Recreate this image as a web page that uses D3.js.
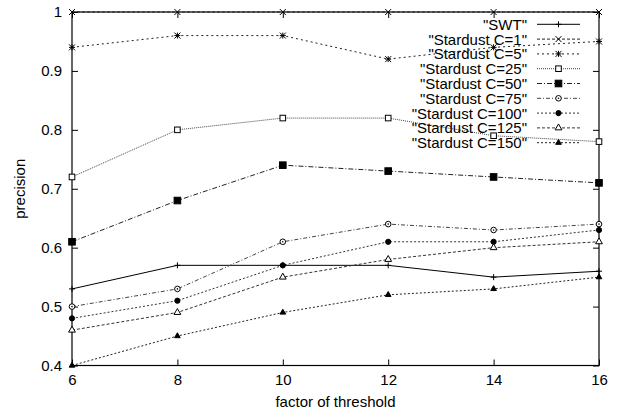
<!DOCTYPE html>
<html>
<head>
<meta charset="utf-8">
<script src="https://cdn.jsdelivr.net/npm/d3@7"></script>
<style>
  body { margin: 0; background: #fff; }
  svg text { font-family: "Liberation Sans", Arial, Helvetica, sans-serif; fill: #000; }
</style>
</head>
<body>
<svg id="chart"></svg>
<script>
// x values (factor of threshold)
var factors = [6, 8, 10, 12, 14, 16];

var seriesNames = ['"SWT"', '"Stardust C=1"', '"Stardust C=5"', '"Stardust C=25"', '"Stardust C=50"',
  '"Stardust C=75"', '"Stardust C=100"', '"Stardust C=125"', '"Stardust C=150"'];

var swt    = [0.53, 0.57, 0.57, 0.57, 0.55, 0.56];
var c1     = [1.00, 1.00, 1.00, 1.00, 1.00, 1.00];
var c5     = [0.94, 0.96, 0.96, 0.92, 0.94, 0.95];
var c25    = [0.72, 0.80, 0.82, 0.82, 0.79, 0.78];
var c50    = [0.61, 0.68, 0.74, 0.73, 0.72, 0.71];
var c75    = [0.50, 0.53, 0.61, 0.64, 0.63, 0.64];
var c100   = [0.48, 0.51, 0.57, 0.61, 0.61, 0.63];
var c125   = [0.46, 0.49, 0.55, 0.58, 0.60, 0.61];
var c150   = [0.40, 0.45, 0.49, 0.52, 0.53, 0.55];

var xTicks = [6, 8, 10, 12, 14, 16];
var yTicks = [0.4, 0.5, 0.6, 0.7, 0.8, 0.9, 1];

var allValues = [swt, c1, c5, c25, c50, c75, c100, c125, c150];

// line dash + marker per series
var styles = [
  { dash: null,        color: "#000", marker: "plus" },
  { dash: "3,2",       color: "#222", marker: "x" },
  { dash: "2,3",       color: "#222", marker: "star" },
  { dash: "1,1",       color: "#444", marker: "square" },
  { dash: "5,2,1,2",   color: "#222", marker: "squareFill" },
  { dash: "4,2,1,2",   color: "#444", marker: "circle" },
  { dash: "2,2",       color: "#333", marker: "circleFill" },
  { dash: "3,2",       color: "#333", marker: "triangle" },
  { dash: "2,2",       color: "#222", marker: "triangleFill" }
];

var fontSize = 15;
var svgWidth = 620, svgHeight = 416;
var margin = { top: 12, right: 21, bottom: 50.5, left: 72 };
var width = svgWidth - margin.left - margin.right;
var height = svgHeight - margin.top - margin.bottom;

var svg = d3.select("#chart")
    .attr("width", svgWidth)
    .attr("height", svgHeight);

var g = svg.append("g")
    .attr("transform", "translate(" + margin.left + "," + margin.top + ")");

var x = d3.scaleLinear().domain([6, 16]).range([0, width]);
var y = d3.scaleLinear().domain([0.4, 1]).range([height, 0]);

// axes with inward ticks on all four sides
var fmtY = function(d) { return d === 1 ? "1" : d3.format(".1f")(d); };

g.append("g")
    .attr("class", "axis")
    .attr("transform", "translate(0," + height + ")")
    .call(d3.axisBottom(x).tickValues(xTicks).tickSize(-6).tickPadding(8.5).tickFormat(d3.format("d")));

g.append("g")
    .attr("class", "axis")
    .call(d3.axisLeft(y).tickValues(yTicks).tickSize(-6).tickPadding(10).tickFormat(fmtY));

g.append("g")
    .attr("class", "axis")
    .call(d3.axisTop(x).tickValues(xTicks).tickSize(-6).tickFormat(""));

g.append("g")
    .attr("class", "axis")
    .attr("transform", "translate(" + width + ",0)")
    .call(d3.axisRight(y).tickValues(yTicks).tickSize(-6).tickFormat(""));

g.selectAll(".axis .domain").remove();
g.selectAll(".axis line").attr("stroke", "#000");
g.selectAll(".axis text").attr("font-size", fontSize).attr("fill", "#000")
    .style("font-family", '"Liberation Sans", Arial, sans-serif');

g.append("rect")
    .attr("width", width)
    .attr("height", height)
    .attr("fill", "none")
    .attr("stroke", "#000")
    .attr("stroke-width", 1.2);

// axis titles
svg.append("text")
    .attr("x", margin.left + width / 2)
    .attr("y", 406.5)
    .attr("text-anchor", "middle")
    .attr("font-size", fontSize)
    .text("factor of threshold");

svg.append("text")
    .attr("transform", "translate(24.5," + (margin.top + height / 2) + ") rotate(-90)")
    .attr("text-anchor", "middle")
    .attr("font-size", fontSize)
    .text("precision");

function drawMarker(sel, type, cx, cy) {
  var s = 3;
  var m = sel.append("g").attr("transform", "translate(" + cx + "," + cy + ")");
  if (type === "plus") {
    m.append("path").attr("d", "M" + (-s) + ",0H" + s + "M0," + (-s) + "V" + s)
        .attr("stroke", "#000").attr("stroke-width", 1).attr("fill", "none");
  } else if (type === "x") {
    m.append("path").attr("d", "M" + (-s) + "," + (-s) + "L" + s + "," + s + "M" + (-s) + "," + s + "L" + s + "," + (-s))
        .attr("stroke", "#000").attr("stroke-width", 1).attr("fill", "none");
  } else if (type === "star") {
    m.append("path").attr("d", "M" + (-s) + ",0H" + s + "M0," + (-s) + "V" + s +
        "M" + (-s) + "," + (-s) + "L" + s + "," + s + "M" + (-s) + "," + s + "L" + s + "," + (-s))
        .attr("stroke", "#000").attr("stroke-width", 1).attr("fill", "none");
  } else if (type === "square" || type === "squareFill") {
    var h = type === "square" ? 2.8 : 3.3;
    m.append("rect").attr("x", -h).attr("y", -h).attr("width", 2 * h).attr("height", 2 * h)
        .attr("fill", type === "square" ? "#fff" : "#000").attr("stroke", "#000").attr("stroke-width", 1);
  } else if (type === "circle" || type === "circleFill") {
    m.append("circle").attr("r", type === "circle" ? 2.8 : 2.6)
        .attr("fill", type === "circle" ? "#fff" : "#000").attr("stroke", "#000").attr("stroke-width", 1);
    if (type === "circle") m.append("circle").attr("r", 0.8).attr("fill", "#000");
  } else if (type === "triangle" || type === "triangleFill") {
    m.append("path").attr("d", d3.symbol().type(d3.symbolTriangle).size(type === "triangle" ? 20 : 14)())
        .attr("fill", type === "triangle" ? "#fff" : "#000").attr("stroke", "#000").attr("stroke-width", 1);
  }
}

var line = d3.line()
    .x(function(d) { return x(d.x); })
    .y(function(d) { return y(d.y); });

allValues.forEach(function(vals, i) {
  var pts = factors.map(function(f, j) { return { x: f, y: vals[j] }; });
  var st = styles[i];
  g.append("path")
      .datum(pts)
      .attr("fill", "none")
      .attr("stroke", st.color)
      .attr("stroke-width", 1)
      .attr("stroke-dasharray", st.dash)
      .attr("d", line);
  pts.forEach(function(p) {
    drawMarker(g, st.marker, x(p.x), y(p.y));
  });
});

// legend
var legend = svg.append("g");
var legTop = 24.3, legStep = 14.8;
seriesNames.forEach(function(name, i) {
  var ly = legTop + i * legStep;
  var st = styles[i];
  legend.append("text")
      .attr("x", 527)
      .attr("y", ly)
      .attr("dy", "0.36em")
      .attr("text-anchor", "end")
      .attr("font-size", fontSize)
      .text(name);
  legend.append("line")
      .attr("x1", 537).attr("x2", 580)
      .attr("y1", ly).attr("y2", ly)
      .attr("stroke", st.color)
      .attr("stroke-width", 1)
      .attr("stroke-dasharray", st.dash);
  drawMarker(legend, st.marker, 558.5, ly);
});
</script>
</body>
</html>
